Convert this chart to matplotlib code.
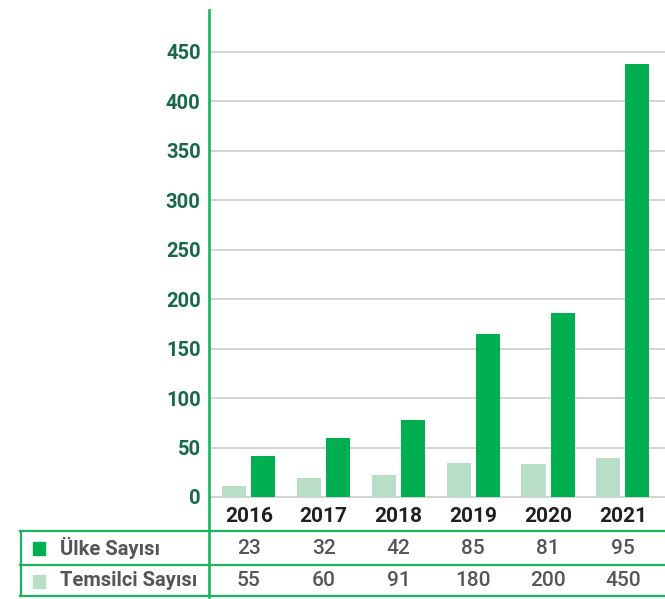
import matplotlib
matplotlib.use("Agg")
import matplotlib.pyplot as plt
from matplotlib.lines import Line2D
from matplotlib.patches import Rectangle

# ---- data ----
years = ["2016", "2017", "2018", "2019", "2020", "2021"]
light_bars = [11, 19, 22, 34, 33, 39]        # light green bars
dark_bars = [41, 60, 78, 165, 186, 438]      # dark green bars
row_labels = ["Ülke Sayısı", "Temsilci Sayısı"]
ulke_values = ["23", "32", "42", "85", "81", "95"]
temsilci_values = ["55", "60", "91", "180", "200", "450"]
yticks = [0, 50, 100, 150, 200, 250, 300, 350, 400, 450]

DARK = "#00AF50"
LIGHT = "#B8DEC8"
LINE = "#1DB25C"
TICK = "#17694A"
GRID = "#C8C8C8"

plt.rcParams['font.family'] = ['Roboto', 'DejaVu Sans']

W, H = 665, 599
fig = plt.figure(figsize=(W / 100, H / 100), dpi=100)

def fx(x):
    return x / W

def fy(y):
    return 1 - y / H

ax_left, ax_right, ax_top, ax_bot = 209, 665, 10, 531
ax = fig.add_axes([fx(ax_left), fy(ax_bot), fx(ax_right) - fx(ax_left), fy(ax_top) - fy(ax_bot)])
px_per_unit = 0.9896
y0 = 497
ax.set_ylim(-(ax_bot - y0) / px_per_unit, (y0 - ax_top) / px_per_unit)
ax.set_xlim(-0.532, 5.564)

xs = list(range(len(years)))
bw = 0.321
off = 0.194
ax.bar([x - off for x in xs], light_bars, width=bw, color=LIGHT, zorder=3)
ax.bar([x + off for x in xs], dark_bars, width=bw, color=DARK, zorder=3)

for t in yticks:
    ax.axhline(t, color=GRID, lw=1.1, zorder=1)

ax.set_yticks(yticks)
ax.set_yticklabels([str(t) for t in yticks], color=TICK, fontsize=14.5, fontweight='bold')
ax.tick_params(axis='y', length=0, pad=6)
ax.set_xticks([])
for s in ["top", "right", "bottom"]:
    ax.spines[s].set_visible(False)
ax.spines["left"].set_color(LINE)
ax.spines["left"].set_linewidth(1.9)
ax.spines["left"].set_zorder(5)

for x, yr in zip(xs, years):
    ax.text(x, -(516 - y0) / px_per_unit, yr, ha='center', va='center',
            fontsize=15, fontweight='bold', color="#231F20")

# ---- table ----
for yl in [531, 565, 596]:
    fig.add_artist(Line2D([fx(20), fx(665)], [fy(yl), fy(yl)], color=LINE, lw=1.6,
                          transform=fig.transFigure))
fig.add_artist(Line2D([fx(21), fx(21)], [fy(531), fy(596)], color=LINE, lw=1.6,
                      transform=fig.transFigure))
fig.add_artist(Line2D([fx(209), fx(209)], [fy(531), fy(597)], color=LINE, lw=1.9,
                      transform=fig.transFigure))

row_y = [548, 581]
swatches = [DARK, LIGHT]
for ry, lab, sc in zip(row_y, row_labels, swatches):
    fig.add_artist(Rectangle((fx(33), fy(ry + 7)), fx(12.5), 13.5 / H, color=sc,
                             transform=fig.transFigure))
    fig.text(fx(60), fy(ry), lab, ha='left', va='center', fontsize=14.5,
             fontweight='bold', color="#555555")

for vals, ry in zip([ulke_values, temsilci_values], row_y):
    for x, v in zip(xs, vals):
        xd = ax.transData.transform((x, 0))[0]
        fig.text(xd / W, fy(ry), v, ha='center', va='center', fontsize=15,
                 fontweight='medium', color="#555555")

fig.savefig("out.png", dpi=100)
